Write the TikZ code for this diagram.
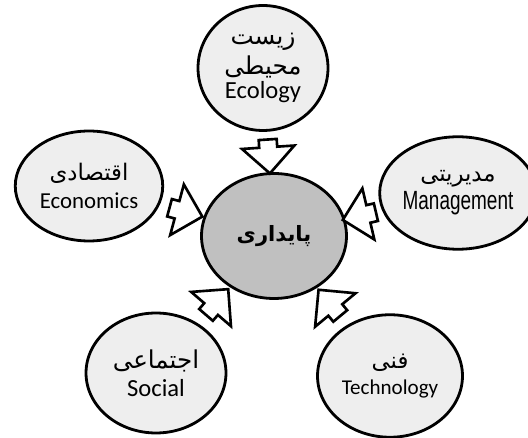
\documentclass[tikz,border=0pt]{standalone}
\usepackage{fontspec}
\usepackage{tikz}
\usetikzlibrary{shapes.geometric,shapes.arrows}
\TeXXeTstate=1
\newfontfamily\arabicfont[Script=Arabic]{DejaVu Sans}
\newfontfamily\engfont{Carlito}
\newfontfamily\narrowfont[FakeStretch=0.72]{Liberation Sans}
\definecolor{pale}{HTML}{EEEEEE}
\definecolor{core}{HTML}{C0C0C0}

\begin{document}
\begin{tikzpicture}[x=0.02cm,y=-0.02cm]
        \tikzstyle{every node} = [align=center, inner sep=0pt]
        \tikzstyle{aspect} = [ellipse, draw, line width=1.6pt, fill=pale, font=\fontsize{13}{16}\selectfont]
        \tikzstyle{blockarrow} = [single arrow, draw, line width=1.5pt, fill=white, minimum height=0.68cm, minimum width=1.05cm, inner sep=0.12cm, single arrow head extend=0.28cm, sloped, allow upside down]
        \useasboundingbox (0,0) rectangle (528,438);

        \node[aspect, fill=core, minimum width=2.9cm, minimum height=2.5cm] (sust) at (274,236) {\arabicfont\bfseries\fontsize{12}{14}\selectfont\beginR پایداری\endR};
        \node[aspect, minimum width=2.6cm, minimum height=2.5cm, font=\fontsize{14}{17}\selectfont] (eco) at (263,68) {\arabicfont\beginR زیست\endR\\ \arabicfont\beginR محیطی\endR\\[-3pt] \engfont Ecology};
        \node[aspect, minimum width=2.95cm, minimum height=2.2cm] (econ) at (89,186) {\arabicfont\beginR اقتصادی\endR\\ \engfont Economics};
        \node[aspect, minimum width=2.6cm, minimum height=2.25cm] (man) at (458,193) {\arabicfont\beginR مدیریتی\endR\\ \narrowfont\fontsize{15}{16}\selectfont Management};
        \node[aspect, minimum width=2.8cm, minimum height=2.4cm] (soc) at (156,373) {\arabicfont\fontsize{14}{16}\selectfont\beginR اجتماعی\endR\\ \engfont\fontsize{14}{16}\selectfont Social};
        \node[aspect, minimum width=2.9cm, minimum height=2.45cm, font=\fontsize{12}{15}\selectfont] (tech) at (390,376) {\arabicfont\fontsize{13}{15}\selectfont\beginR فنی\endR\\ \engfont Technology};

        % arrows into the centre
        \path (eco) -- node[blockarrow] (aeco) {} (sust);
        \path (econ) -- node[blockarrow] (aecon) {} (sust);
        \path (man) -- node[blockarrow] (aman) {} (sust);
        \path (soc) -- node[blockarrow] (asoc) {} (sust);
        \path (tech) -- node[blockarrow] (atech) {} (sust);
\end{tikzpicture}
\end{document}
